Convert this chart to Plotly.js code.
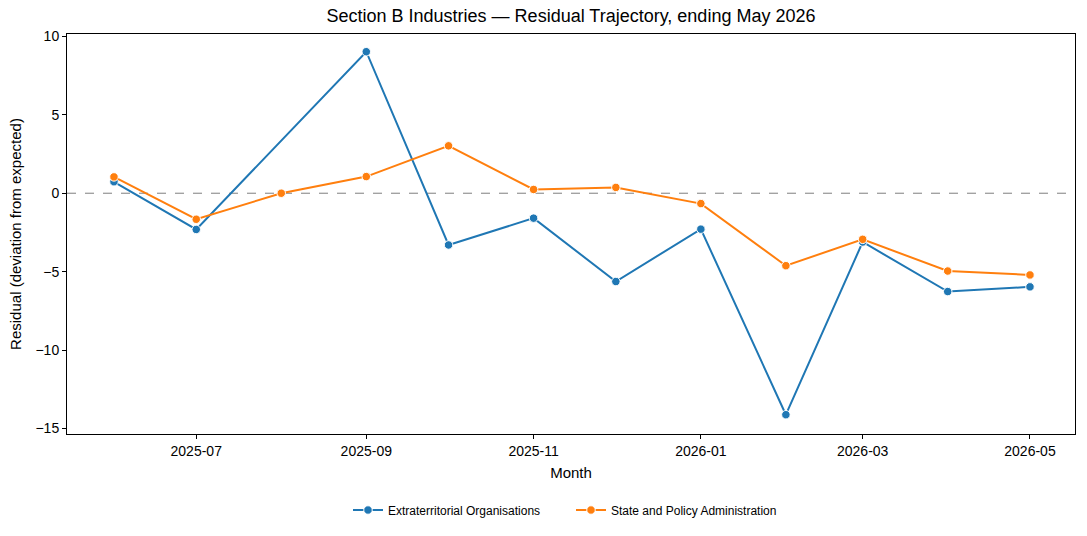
<!DOCTYPE html>
<html>
<head>
<meta charset="utf-8">
<script src="https://cdn.plot.ly/plotly-3.0.1.min.js"></script>
<style>
  html, body { margin: 0; padding: 0; background: #ffffff; }
  #chart { width: 1087px; height: 536px; }
</style>
</head>
<body>
<div id="chart"></div>
<script>
// Monthly residuals for two Section B industries
const months = ['2025-06-01', '2025-07-01', '2025-08-01', '2025-09-01', '2025-10-01', '2025-11-01',
                '2025-12-01', '2026-01-01', '2026-02-01', '2026-03-01', '2026-04-01', '2026-05-01'];
const extraterritorial = [0.73, -2.31, null, 9.02, -3.30, -1.59, -5.63, -2.29, -14.12, -3.11, -6.27, -5.97];
const statePolicy = [1.04, -1.66, 0.0, 1.06, 3.02, 0.24, 0.37, -0.66, -4.62, -2.94, -4.96, -5.21];
const seriesNames = ['Extraterritorial Organisations', 'State and Policy Administration'];
const xTickVals = ['2025-07-01', '2025-09-01', '2025-11-01', '2026-01-01', '2026-03-01', '2026-05-01'];
const yTickVals = [-15, -10, -5, 0, 5, 10];

const FONT = 'Liberation Sans, Arial, Helvetica, sans-serif';

function lineTrace(name, values, color) {
  return {
    type: 'scatter',
    mode: 'lines+markers',
    name: name,
    x: months,
    y: values,
    connectgaps: true,
    line: { color: color, width: 2 },
    marker: { color: color, size: 8.5, symbol: 'circle', line: { color: '#ffffff', width: 1 } }
  };
}

const traces = [
  lineTrace(seriesNames[0], extraterritorial, '#1f77b4'),
  lineTrace(seriesNames[1], statePolicy, '#ff7f0e')
];

const layout = {
  width: 1087,
  height: 536,
  paper_bgcolor: '#ffffff',
  plot_bgcolor: '#ffffff',
  margin: { l: 67, r: 12, t: 34, b: 99 },
  font: { family: FONT, color: '#000000', size: 14 },
  title: {
    text: 'Section B Industries \u2014 Residual Trajectory, ending May 2026',
    font: { family: FONT, size: 18, color: '#000000' },
    x: 0.5, xref: 'paper', xanchor: 'center',
    y: 1, yref: 'container', yanchor: 'top', pad: { t: 9 }
  },
  xaxis: {
    type: 'date',
    range: ['2025-05-14 21:00', '2026-05-17 10:00'],
    tickvals: xTickVals,
    tickformat: '%Y-%m',
    ticks: 'outside', ticklen: 4, tickwidth: 1, tickcolor: '#000000',
    showline: true, linecolor: '#000000', linewidth: 1, mirror: true,
    showgrid: false, zeroline: false,
    tickfont: { family: FONT, size: 14, color: '#000000' },
    title: { text: 'Month', font: { family: FONT, size: 15, color: '#000000' }, standoff: 9 }
  },
  yaxis: {
    range: [-15.35, 10.15],
    tickvals: yTickVals,
    ticks: 'outside', ticklen: 4, tickwidth: 1, tickcolor: '#000000',
    showline: true, linecolor: '#000000', linewidth: 1, mirror: true,
    showgrid: false, zeroline: false,
    tickfont: { family: FONT, size: 14, color: '#000000' },
    title: { text: 'Residual (deviation from expected)', font: { family: FONT, size: 15, color: '#000000' }, standoff: 10 }
  },
  shapes: [{
    type: 'line', xref: 'paper', x0: 0, x1: 1, yref: 'y', y0: 0, y1: 0,
    line: { color: '#7f7f7f', width: 1, dash: 'dash' }, layer: 'below'
  }],
  showlegend: true,
  legend: {
    orientation: 'h',
    x: 0.5, xanchor: 'center',
    y: -0.19, yanchor: 'middle',
    font: { family: FONT, size: 12, color: '#000000' },
    bgcolor: 'rgba(0,0,0,0)',
    itemwidth: 30,
    entrywidth: 178,
    entrywidthmode: 'pixels'
  }
};

Plotly.newPlot('chart', traces, layout, { displayModeBar: false, responsive: false });
</script>
</body>
</html>
